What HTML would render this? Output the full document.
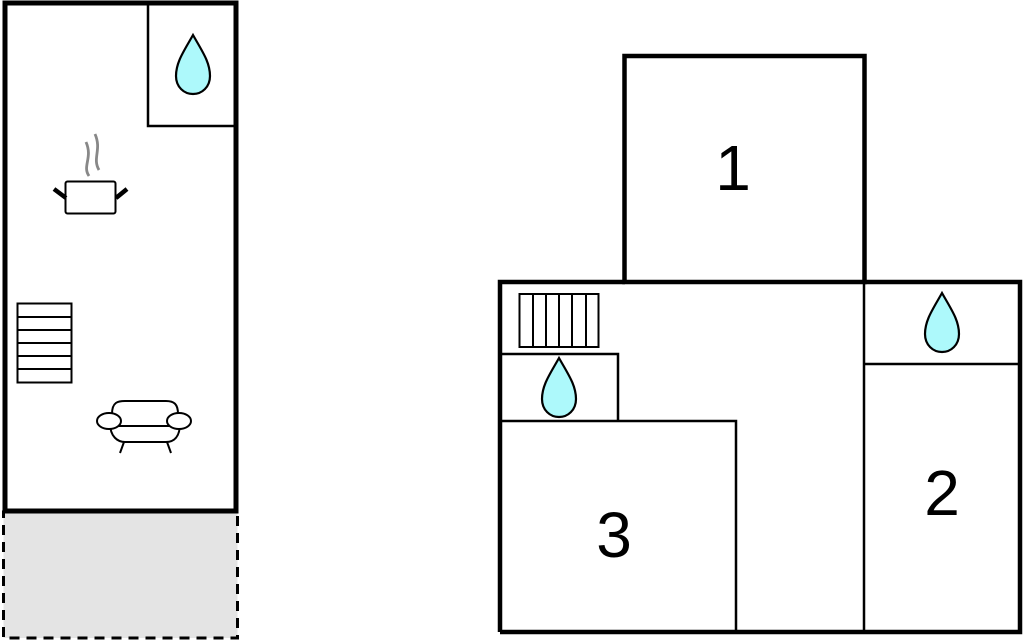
<!DOCTYPE html>
<html><head><style>html,body{margin:0;padding:0;background:#fff}svg{display:block}</style></head>
<body>
<svg width="1024" height="641" viewBox="0 0 1024 641" xmlns="http://www.w3.org/2000/svg">
<defs>
<path id="drop" d="M0,-33 C-9,-17 -17,-6 -17,8 C-17,19 -9,26 0,26 C9,26 17,19 17,8 C17,-6 9,-17 0,-33 Z" fill="#adf9fb" stroke="#000" stroke-width="2.2"/>
</defs>
<!-- left plan -->
<rect x="3.5" y="512" width="234" height="126" fill="#e4e4e4" stroke="#000" stroke-width="3" stroke-dasharray="10,7"/>
<rect x="5" y="3" width="231" height="508" fill="#fff" stroke="#000" stroke-width="5"/>
<path d="M148,3 V126 H236" fill="none" stroke="#000" stroke-width="2.5"/>
<use href="#drop" x="193" y="68"/>
<!-- pot -->
<path d="M89,176 C82,166 93,158 86,142 M99,170 C92,158 102,150 95,134" fill="none" stroke="#888" stroke-width="2.8"/>
<rect x="65.5" y="181.5" width="50" height="32" rx="2" fill="#fff" stroke="#000" stroke-width="2"/>
<path d="M54,189 L66,198 M127,189 L116,198" stroke="#000" stroke-width="4.5"/>
<!-- stairs -->
<rect x="17.5" y="303.5" width="54" height="79" fill="#fff" stroke="#000" stroke-width="2"/>
<path d="M17,317 H71 M17,330 H71 M17,343 H71 M17,356 H71 M17,369 H71" stroke="#000" stroke-width="2"/>
<!-- sofa -->
<path d="M112,414 C112,402 118,401 125,401 H166 C174,401 178,404 178,414" fill="#fff" stroke="#000" stroke-width="2"/>
<path d="M110,423 C110,437 118,442 125,442 H166 C174,442 180,437 180,423" fill="#fff" stroke="#000" stroke-width="2"/>
<path d="M118,426 H174" stroke="#000" stroke-width="2"/>
<ellipse cx="109" cy="421" rx="12" ry="8" fill="#fff" stroke="#000" stroke-width="2"/>
<ellipse cx="179" cy="421" rx="12" ry="8" fill="#fff" stroke="#000" stroke-width="2"/>
<path d="M124,442 L120,453 M167,442 L171,453" stroke="#000" stroke-width="2"/>
<!-- right plan -->
<rect x="624.5" y="56" width="240" height="226" fill="#fff" stroke="#000" stroke-width="4.5"/>
<path d="M500,632 V282 H625 M864,282 H1020 V632 H500" fill="none" stroke="#000" stroke-width="4.5"/>
<path d="M625,282 H864" stroke="#000" stroke-width="2"/>
<path d="M864,282 V632 M864,364 H1020" stroke="#000" stroke-width="2.5"/>
<path d="M502,354 H618 V421 M502,421 H736 V632" fill="none" stroke="#000" stroke-width="2.5"/>
<rect x="519.5" y="294" width="79" height="53" fill="#fff" stroke="#000" stroke-width="2"/>
<path d="M533,294 V347 M546,294 V347 M559,294 V347 M572,294 V347 M586,294 V347" stroke="#000" stroke-width="2"/>
<use href="#drop" x="559" y="391"/>
<use href="#drop" x="942" y="326"/>
<g font-family="Liberation Sans, sans-serif" font-size="64" text-anchor="middle" fill="#000">
<text x="733" y="190">1</text>
<text x="942" y="515">2</text>
<text x="614" y="557">3</text>
</g>
</svg>
</body></html>
